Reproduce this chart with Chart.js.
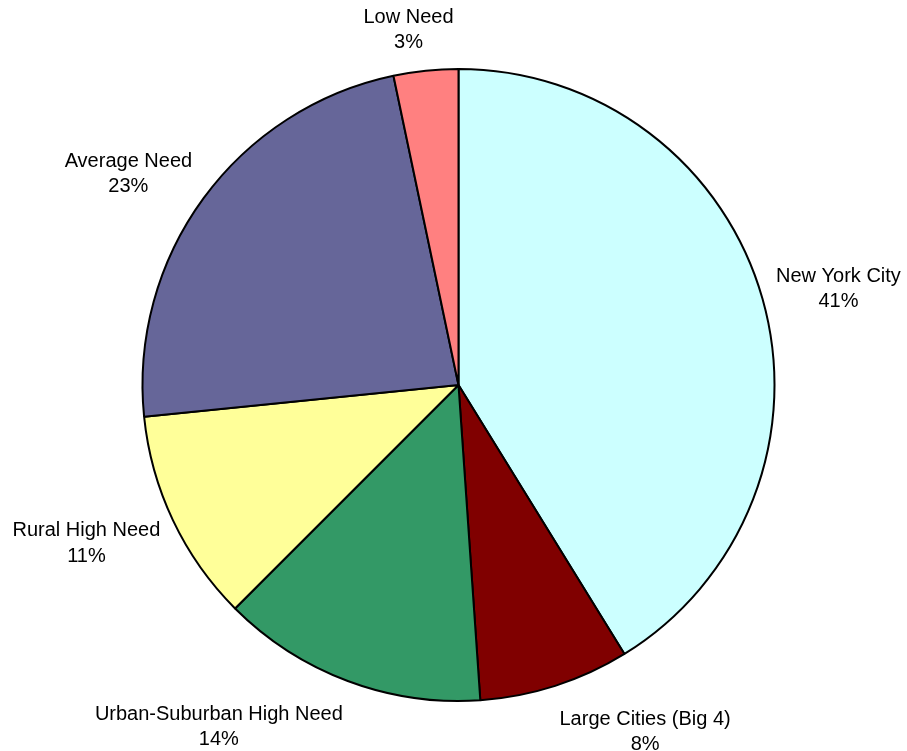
<!DOCTYPE html>
<html>
<head>
<meta charset="utf-8">
<script src="https://cdn.jsdelivr.net/npm/chart.js@4"></script>
<style>
  html, body { margin: 0; padding: 0; background: #ffffff; }
  #wrap { width: 907px; height: 751px; }
</style>
</head>
<body>
<div id="wrap"><canvas id="c" width="907" height="751"></canvas></div>
<script>
const categories = ["New York City", "Large Cities (Big 4)", "Urban-Suburban High Need", "Rural High Need", "Average Need", "Low Need"];
const shares = [41.2, 7.7, 13.6, 10.9, 23.3, 3.3];
const sliceColors = ["#CCFFFF", "#800000", "#339966", "#FFFF99", "#666699", "#FF8080"];

const labelFont = '20px "Liberation Sans", Arial, sans-serif';
const lineGap = 25.5;

const outsideLabels = {
  id: 'outsideLabels',
  afterDatasetsDraw(chart) {
    const ctx = chart.ctx;
    const meta = chart.getDatasetMeta(0);
    const data = chart.data.datasets[0].data;
    const total = data.reduce((a, b) => a + b, 0);
    ctx.save();
    ctx.font = labelFont;
    ctx.fillStyle = '#000';
    ctx.textAlign = 'center';
    ctx.textBaseline = 'middle';
    const clamp = (v, lo, hi) => Math.max(lo, Math.min(hi, v));
    meta.data.forEach((arc, i) => {
      const p = arc.getProps(['x', 'y', 'startAngle', 'endAngle', 'outerRadius'], true);
      const mid = (p.startAngle + p.endAngle) / 2;
      const ux = Math.cos(mid), uy = Math.sin(mid);
      const line1 = chart.data.labels[i];
      const line2 = Math.round(data[i] / total * 100) + '%';
      const w = Math.max(ctx.measureText(line1).width, ctx.measureText(line2).width);
      const hw = w / 2, hh = 25;
      const gap = 14;
      const sx = clamp(3.4 * ux, -1, 1);
      const sy = clamp(1.3 * uy, -1.2, 1.2);
      const cx = p.x + (p.outerRadius + gap) * ux + hw * sx;
      const cy = p.y + (p.outerRadius + gap) * uy + hh * sy + 3;
      ctx.fillText(line1, cx, cy - lineGap / 2);
      ctx.fillText(line2, cx, cy + lineGap / 2);
    });
    ctx.restore();
  }
};

new Chart(document.getElementById('c'), {
  type: 'pie',
  data: {
    labels: categories,
    datasets: [{
      data: shares,
      backgroundColor: sliceColors,
      borderColor: '#000000',
      borderWidth: 2,
      hoverOffset: 0
    }]
  },
  options: {
    responsive: false,
    devicePixelRatio: 1,
    animation: false,
    layout: { padding: { top: 68, bottom: 49, left: 10, right: 0 } },
    plugins: {
      legend: { display: false },
      tooltip: { enabled: false },
      title: { display: false }
    }
  },
  plugins: [outsideLabels]
});
</script>
</body>
</html>
